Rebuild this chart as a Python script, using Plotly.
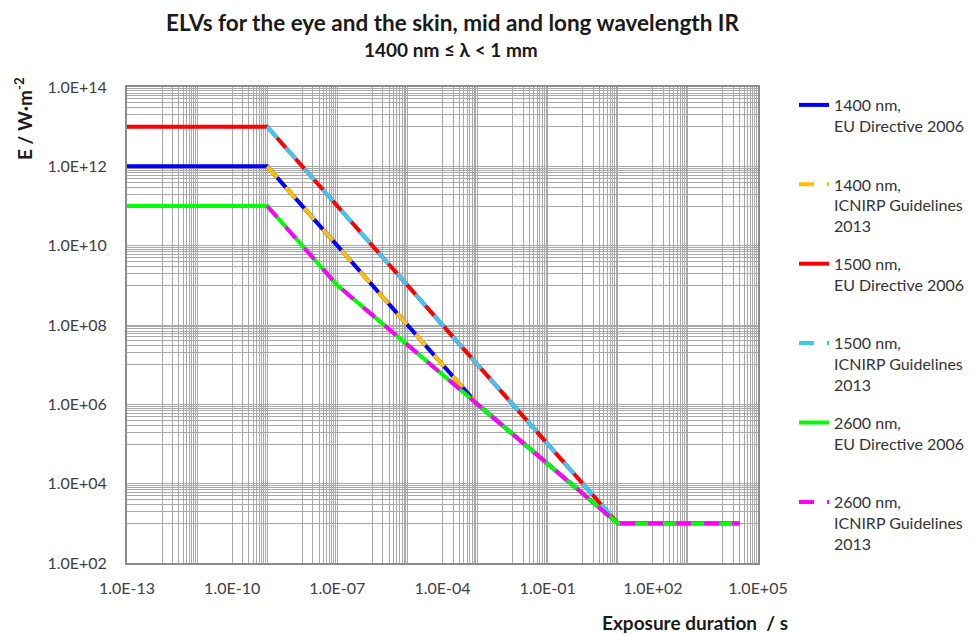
import plotly.graph_objects as go

# ---- data (breakpoints) ----
t_1400_eu = [1e-13, 1e-9, 1e-3, 10, 3e4]
E_1400_eu = [1e12, 1e12, 1e6, 1e3, 1e3]
t_1400_icnirp = [1e-9, 1e-3, 10, 3e4]
E_1400_icnirp = [1e12, 1e6, 1e3, 1e3]
t_1500_eu = [1e-13, 1e-9, 10, 3e4]
E_1500_eu = [1e13, 1e13, 1e3, 1e3]
t_1500_icnirp = [1e-9, 10, 3e4]
E_1500_icnirp = [1e13, 1e3, 1e3]
t_2600_eu = [1e-13, 1e-9, 1e-7, 10, 3e4]
E_2600_eu = [1e11, 1e11, 1e9, 1e3, 1e3]
t_2600_icnirp = [1e-9, 1e-7, 10, 3e4]
E_2600_icnirp = [1e11, 1e9, 1e3, 1e3]

series_names = [
    "1400 nm,<br>EU Directive 2006<br>\u00a0",
    "1400 nm,<br>ICNIRP Guidelines<br>2013",
    "1500 nm,<br>EU Directive 2006<br>\u00a0",
    "1500 nm,<br>ICNIRP Guidelines<br>2013",
    "2600 nm,<br>EU Directive 2006<br>\u00a0",
    "2600 nm,<br>ICNIRP Guidelines<br>2013",
]

x_tickvals = [1e-13, 1e-10, 1e-7, 1e-4, 1e-1, 1e2, 1e5]
x_ticktext = ["1.0E-13", "1.0E-10", "1.0E-07", "1.0E-04", "1.0E-01", "1.0E+02", "1.0E+05"]
y_tickvals = [1e2, 1e4, 1e6, 1e8, 1e10, 1e12, 1e14]
y_ticktext = ["1.0E+02", "1.0E+04", "1.0E+06", "1.0E+08", "1.0E+10", "1.0E+12", "1.0E+14"]

title_text = "ELVs for the eye and the skin, mid and long wavelength IR"
subtitle_text = "1400 nm \u2264 \u03bb < 1 mm"
x_title = "Exposure duration  / s"
y_title = "E / W\u00b7m<sup>-2</sup>"

# ---- styling ----
colors = ["#0000FF", "#FFC000", "#FF0000", "#3FC6F2", "#00FF00", "#FF00FF"]
data = [
    (t_1400_eu, E_1400_eu),
    (t_1400_icnirp, E_1400_icnirp),
    (t_1500_eu, E_1500_eu),
    (t_1500_icnirp, E_1500_icnirp),
    (t_2600_eu, E_2600_eu),
    (t_2600_icnirp, E_2600_icnirp),
]

fig = go.Figure()
for i, ((tx, ey), name, col) in enumerate(zip(data, series_names, colors)):
    dashed = i % 2 == 1
    fig.add_trace(go.Scatter(
        x=tx, y=ey, mode="lines", name=name, legendgroup=f"g{i}",
        line=dict(color=col, width=4, dash="15px,13px" if dashed else "solid"),
    ))

# gridline positions (Excel-like pattern)
x_minor = []
for e in range(-12, 5, 2):
    for j in range(1, 10):
        x_minor.append(j * 10.0 ** e)
    x_minor.append(10.0 ** (e + 1))
y_minor = []
for e in range(3, 14, 2):
    for j in range(1, 10):
        y_minor.append(j * 10.0 ** e)

grid_col = "#A8A8A8"
axis_col = "#8C8C8C"
tick_font = dict(family="Lato", size=16, color="#404040")

fig.update_xaxes(
    type="log", range=[-13, 5], tickmode="array", tickvals=x_tickvals, ticktext=x_ticktext,
    showgrid=True, gridcolor=grid_col, gridwidth=1,
    minor=dict(tickmode="array", tickvals=x_minor, showgrid=True, gridcolor=grid_col, gridwidth=1, ticks=""),
    showline=True, mirror=True, linecolor=axis_col, linewidth=2, ticks="",
    tickfont=tick_font, zeroline=False, ticklabelstandoff=10,
)
fig.update_yaxes(
    type="log", range=[2, 14], tickmode="array", tickvals=y_tickvals, ticktext=y_ticktext,
    showgrid=True, gridcolor=grid_col, gridwidth=1,
    minor=dict(tickmode="array", tickvals=y_minor, showgrid=True, gridcolor=grid_col, gridwidth=1, ticks=""),
    showline=True, mirror=True, linecolor=axis_col, linewidth=2, ticks="",
    tickfont=tick_font, zeroline=False, ticklabelstandoff=15,
)

# page has an 8px body margin: work in reference pixel coords, offset by 8
OFF = 8
W, H = 975 - OFF, 634 - OFF
L = 127 - OFF
T = 87 - OFF
R = W - (758 - OFF)
B = H - (563 - OFF)
pw, ph = W - L - R, H - T - B

def px(x):
    return (x - OFF - L) / pw

def py(y):
    return (H - B - (y - OFF)) / ph

fig.update_layout(
    width=W, height=H,
    margin=dict(l=L, r=R, t=T, b=B, pad=0, autoexpand=False),
    paper_bgcolor="white", plot_bgcolor="white",
    showlegend=True,
    legend=dict(
        x=px(794), y=py(88), xanchor="left", yanchor="top",
        font=dict(family="Lato", size=16, color="#333333"),
        valign="top", tracegroupgap=14, bgcolor="rgba(0,0,0,0)",
        itemwidth=30,
    ),
    annotations=[
        dict(text="<b>" + title_text + "</b>", xref="paper", yref="paper",
             x=px(452), y=py(22), xanchor="center", yanchor="middle", showarrow=False,
             font=dict(family="Lato", size=22.5, color="#1a1a1a")),
        dict(text="<b>" + subtitle_text + "</b>", xref="paper", yref="paper",
             x=px(451), y=py(49), xanchor="center", yanchor="middle", showarrow=False,
             font=dict(family="Lato", size=19, color="#1a1a1a")),
        dict(text="<b>" + y_title + "</b>", xref="paper", yref="paper",
             x=px(23), y=py(119), xanchor="center", yanchor="middle", showarrow=False,
             textangle=-90, font=dict(family="Lato", size=19, color="#1a1a1a")),
        dict(text="<b>" + x_title + "</b>", xref="paper", yref="paper",
             x=px(790), y=py(622), xanchor="right", yanchor="middle", showarrow=False,
             font=dict(family="Lato", size=19, color="#1a1a1a")),
    ],
)

fig.write_html("out.html")
